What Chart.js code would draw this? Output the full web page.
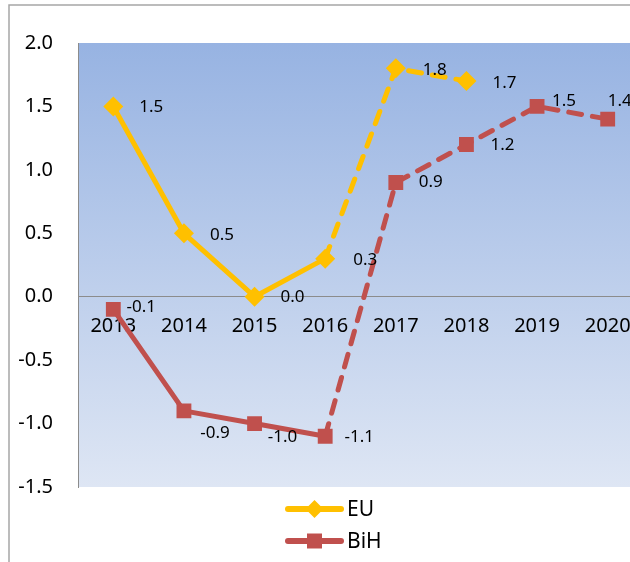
<!DOCTYPE html>
<html>
<head>
<meta charset="utf-8">
<script src="https://cdn.jsdelivr.net/npm/chart.js@4.4.1/dist/chart.umd.min.js"></script>
<style>
  html, body { margin: 0; padding: 0; overflow: hidden; background: #fff; }
  #wrap { width: 660px; height: 562px; }
</style>
</head>
<body>
<div id="wrap"><canvas id="chart" width="660" height="562"></canvas></div>
<script>
// data
const years = ['2013', '2014', '2015', '2016', '2017', '2018', '2019', '2020'];
const euValues = [1.5, 0.5, 0.0, 0.3, 1.8, 1.7, null, null];
const bihValues = [-0.1, -0.9, -1.0, -1.1, 0.9, 1.2, 1.5, 1.4];
const yTicks = [-1.5, -1.0, -0.5, 0.0, 0.5, 1.0, 1.5, 2.0];

const FONT = '"Noto Sans", "Open Sans", sans-serif';
const EU_COLOR = '#FFC000';
const BIH_COLOR = '#C0504D';

// dashed from 2016 on (forecast)
const dashFrom = 3;

// plot background + frame
const backdrop = {
  id: 'backdrop',
  beforeDraw(chart) {
    const { ctx, chartArea: a } = chart;
    ctx.save();
    const g = ctx.createLinearGradient(0, a.top, 0, a.bottom);
    g.addColorStop(0, '#97B3E2');
    g.addColorStop(1, '#DEE6F4');
    ctx.fillStyle = g;
    ctx.fillRect(a.left, a.top, a.right - a.left, a.bottom - a.top);
    // outer chart frame (left + top edge)
    ctx.strokeStyle = '#A6A6A6';
    ctx.lineWidth = 1.5;
    ctx.beginPath();
    ctx.moveTo(9, chart.height);
    ctx.lineTo(9, 5);
    ctx.lineTo(chart.width, 5);
    ctx.stroke();
    ctx.restore();
  }
};

// value labels next to each point
const valueLabels = {
  id: 'valueLabels',
  afterDatasetsDraw(chart, args, opts) {
    const { ctx } = chart;
    ctx.save();
    ctx.font = '17px ' + FONT;
    ctx.fillStyle = '#000';
    ctx.textAlign = 'center';
    ctx.textBaseline = 'middle';
    chart.data.datasets.forEach((ds, i) => {
      const meta = chart.getDatasetMeta(i);
      const offs = opts.offsets[i];
      meta.data.forEach((pt, j) => {
        const v = ds.data[j];
        if (v === null || v === undefined) return;
        const o = offs[j] || [36, 0];
        ctx.fillText(v.toFixed(1), pt.x + o[0], pt.y + o[1]);
      });
    });
    ctx.restore();
  }
};

// vertical legend: line with marker
const lineLegend = {
  id: 'lineLegend',
  afterDraw(chart) {
    const { ctx } = chart;
    const x0 = 288, x1 = 341, tx = 347;
    const rows = [509, 541];
    ctx.save();
    chart.data.datasets.forEach((ds, i) => {
      const y = rows[i];
      ctx.strokeStyle = ds.borderColor;
      ctx.lineWidth = 6;
      ctx.lineCap = 'round';
      ctx.beginPath();
      ctx.moveTo(x0, y);
      ctx.lineTo(x1, y);
      ctx.stroke();
      ctx.fillStyle = ds.borderColor;
      const cx = (x0 + x1) / 2;
      ctx.beginPath();
      if (ds.pointStyle === 'rectRot') {
        ctx.moveTo(cx, y - 9); ctx.lineTo(cx + 9, y); ctx.lineTo(cx, y + 9); ctx.lineTo(cx - 9, y);
      } else {
        ctx.rect(cx - 7.5, y - 7.5, 15, 15);
      }
      ctx.closePath();
      ctx.fill();
      ctx.fillStyle = '#000';
      ctx.font = '21px ' + FONT;
      ctx.textAlign = 'left';
      ctx.textBaseline = 'middle';
      ctx.fillText(ds.label, tx, y + 1);
    });
    ctx.restore();
  }
};

const dashed = (c) => c.p0DataIndex >= dashFrom ? [13, 11] : undefined;

new Chart(document.getElementById('chart'), {
  type: 'line',
  data: {
    labels: years,
    datasets: [{
      label: 'EU',
      data: euValues,
      borderColor: EU_COLOR,
      backgroundColor: EU_COLOR,
      borderWidth: 5,
      borderCapStyle: 'round',
      borderJoinStyle: 'round',
      pointStyle: 'rectRot',
      pointRadius: 10,
      pointHoverRadius: 10,
      pointBorderWidth: 0,
      tension: 0,
      segment: { borderDash: dashed }
    }, {
      label: 'BiH',
      data: bihValues,
      borderColor: BIH_COLOR,
      backgroundColor: BIH_COLOR,
      borderWidth: 5,
      borderCapStyle: 'round',
      borderJoinStyle: 'round',
      pointStyle: 'rect',
      pointRadius: 10.5,
      pointHoverRadius: 10.5,
      pointBorderWidth: 0,
      tension: 0,
      segment: { borderDash: dashed }
    }]
  },
  options: {
    responsive: false,
    animation: false,
    layout: { padding: { left: 0, top: 43, right: 17, bottom: 75 } },
    plugins: {
      legend: { display: false },
      tooltip: { enabled: false },
      valueLabels: {
        offsets: [
          [[38, 1], [38, 2], [38, 0], [40, 1], [39, 2], [38, 2]],
          [[28, -2], [31, 22], [28, 14], [34, 1], [35, 0], [36, 1], [27, -5], [12, -18]]
        ]
      }
    },
    scales: {
      x: {
        position: { y: 0 },
        offset: true,
        grid: { display: false, drawTicks: false },
        border: { display: true, color: '#8C8C8C', width: 1 },
        ticks: { color: '#000', font: { family: FONT, size: 20 }, padding: 18, maxRotation: 0, autoSkip: false }
      },
      y: {
        min: yTicks[0],
        max: yTicks[yTicks.length - 1],
        afterBuildTicks: (s) => { s.ticks = yTicks.map(v => ({ value: v })); },
        afterFit: (s) => { s.width = 78; },
        grid: { display: false, drawTicks: false },
        border: { display: true, color: '#8C8C8C', width: 1 },
        ticks: {
          color: '#000',
          font: { family: FONT, size: 20 },
          padding: 25,
          callback: (v) => Number(v).toFixed(1)
        }
      }
    }
  },
  plugins: [backdrop, valueLabels, lineLegend]
});
</script>
</body>
</html>
